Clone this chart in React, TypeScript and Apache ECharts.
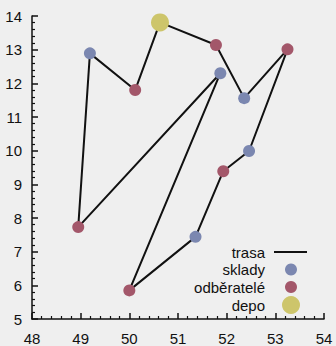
import React, { useEffect, useRef } from "react";
import * as echarts from "echarts";

// warehouses (sklady)
const skladyX = [49.19, 51.87, 52.36, 52.46, 51.36];
const skladyY = [12.89, 12.3, 11.56, 9.99, 7.44];
// customers (odběratelé)
const odberateleX = [50.12, 51.78, 53.25, 51.93, 50.0, 48.95];
const odberateleY = [11.8, 13.14, 13.01, 9.39, 5.85, 7.73];
// depot
const depoX = [50.63];
const depoY = [13.81];
// route: sequence of [kind, index]
const trasa: [string, number][] = [
  ["d", 0], ["o", 1], ["s", 2], ["o", 2], ["s", 3], ["o", 3], ["s", 4],
  ["o", 4], ["s", 1], ["o", 5], ["s", 0], ["o", 0], ["d", 0],
];
const legendNames = ["trasa", "sklady", "odběratelé", "depo"];
const xTicks = [48, 54, 1];
const yTicks = [5, 14, 1];

const BLUE = "#7b87b0";
const RED = "#a3576a";
const YELLOW = "#cdc56b";
const FONT = "Liberation Sans";

function pt(kind: string, i: number): [number, number] {
  if (kind === "s") return [skladyX[i], skladyY[i]];
  if (kind === "o") return [odberateleX[i], odberateleY[i]];
  return [depoX[i], depoY[i]];
}

export default function App() {
  const ref = useRef<HTMLDivElement>(null);
  useEffect(() => {
    if (!ref.current) return;
    const chart = echarts.init(ref.current, null, { renderer: "svg" });
    const axisCommon = {
      axisLine: { show: true, onZero: false, lineStyle: { color: "#111", width: 1.5 } },
      axisTick: { show: true, inside: true, length: 6, lineStyle: { color: "#111", width: 1.5 } },
      minorTick: { show: true, splitNumber: 5, length: 3, lineStyle: { color: "#111", width: 1.2 } },
      splitLine: { show: false },
      axisLabel: { color: "#111", fontSize: 15, fontFamily: FONT },
    };
    const legendY = [252, 269.5, 287, 305];
    const graphic: any[] = legendNames.map((n, i) => ({
      type: "text",
      x: 265,
      y: legendY[i],
      style: { text: n, fill: "#111", font: `15px ${FONT}`, textAlign: "right", textVerticalAlign: "middle" },
    }));
    graphic.push({ type: "line", shape: { x1: 274, y1: legendY[0], x2: 307, y2: legendY[0] }, style: { stroke: "#111", lineWidth: 2 } });
    graphic.push({ type: "circle", shape: { cx: 291, cy: legendY[1], r: 6 }, style: { fill: BLUE } });
    graphic.push({ type: "circle", shape: { cx: 291, cy: legendY[2], r: 6 }, style: { fill: RED } });
    graphic.push({ type: "circle", shape: { cx: 291, cy: legendY[3], r: 9 }, style: { fill: YELLOW } });

    chart.setOption({
      animation: false,
      backgroundColor: "#efefef",
      grid: { left: 32, right: 12, top: 16, bottom: 27, containLabel: false, outerBoundsMode: "none" },
      xAxis: {
        type: "value", min: xTicks[0], max: xTicks[1], interval: xTicks[2],
        ...axisCommon,
        axisLabel: { ...axisCommon.axisLabel, margin: 12 },
      },
      yAxis: {
        type: "value", min: yTicks[0], max: yTicks[1], interval: yTicks[2],
        ...axisCommon,
        axisLabel: { ...axisCommon.axisLabel, margin: 10 },
      },
      graphic,
      series: [
        {
          name: legendNames[0], type: "line", data: trasa.map(([k, i]) => pt(k, i)),
          showSymbol: false, symbol: "none", lineStyle: { color: "#111", width: 2 }, z: 1,
        },
        {
          name: legendNames[1], type: "scatter", data: skladyX.map((x, i) => [x, skladyY[i]]),
          symbolSize: 12, itemStyle: { color: BLUE, opacity: 1 }, z: 3,
        },
        {
          name: legendNames[2], type: "scatter", data: odberateleX.map((x, i) => [x, odberateleY[i]]),
          symbolSize: 12, itemStyle: { color: RED, opacity: 1 }, z: 3,
        },
        {
          name: legendNames[3], type: "scatter", data: depoX.map((x, i) => [x, depoY[i]]),
          symbolSize: 18, itemStyle: { color: YELLOW, opacity: 1 }, z: 3,
        },
      ],
    });
    return () => chart.dispose();
  }, []);
  return <div ref={ref} style={{ position: "absolute", left: 0, top: 0, width: 336, height: 346 }} />;
}
